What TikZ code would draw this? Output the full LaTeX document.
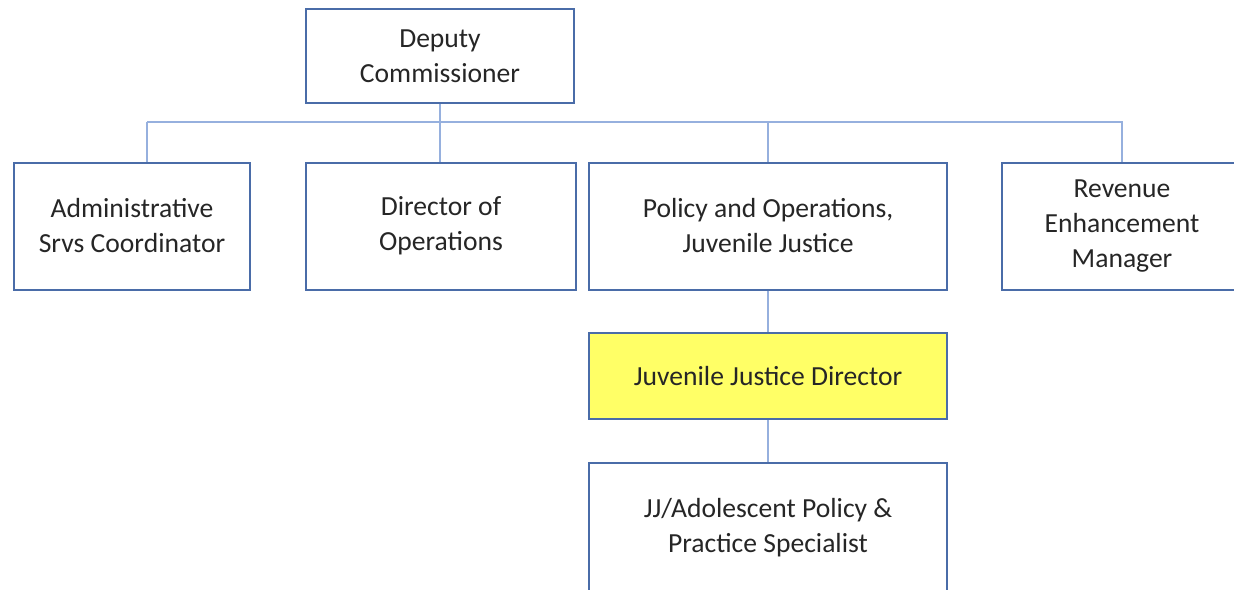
\documentclass[tikz,border=0pt]{standalone}
\usepackage{fontspec}
\setmainfont{Carlito}
\usetikzlibrary{positioning}
\definecolor{boxline}{RGB}{74,108,168}
\definecolor{linkline}{RGB}{150,176,222}
\definecolor{jjyellow}{RGB}{255,255,102}

\begin{document}
\begin{tikzpicture}[x=0.5pt,y=-0.5pt]
\tikzset{post/.style={draw=boxline, line width=1pt, fill=white, align=center,
		text=black!85, font=\fontsize{13.8}{17.5}\selectfont, inner sep=0pt},
	link/.style={draw=linkline, line width=0.8pt}}
				\useasboundingbox (0,0) rectangle (1234,589);
				\clip (0,0) rectangle (1234,589);
				% top
				\node[post, minimum width=134pt, minimum height=47pt] (deputy) at (440,56) {Deputy\\Commissioner};
				% second row
				\node[post, minimum width=118pt, minimum height=63.5pt] (admin) at (132,226) {Administrative\\Srvs Coordinator};
				\node[post, minimum width=135pt, minimum height=63.5pt] (dirops) at (441,226) {Director of\\Operations};
				\node[post, minimum width=179pt, minimum height=63.5pt] (policy) at (768,226) {Policy and Operations,\\Juvenile Justice};
				\node[post, minimum width=120pt, minimum height=63.5pt] (revenue) at (1122,226) {Revenue\\Enhancement\\Manager};
				% under policy
				\node[post, fill=jjyellow, minimum width=179pt, minimum height=43pt] (jjdir) at (768,376) {Juvenile Justice Director};
				\node[post, minimum width=179pt, minimum height=65pt] (specialist) at (768,528) {JJ/Adolescent Policy \&\\Practice Specialist};
				% links
				\coordinate (bus) at (440,122);
				\coordinate (adminjoin) at (147,122);
				\draw[link] (deputy.south) -- (bus);
				\draw[link] (adminjoin) -- (bus -| revenue.north) -- (revenue.north);
				\draw[link] (adminjoin) -- (adminjoin |- admin.north);
				\draw[link] (bus) -- (dirops.north -| bus);
				\draw[link] (bus -| policy.north) -- (policy.north);
				\draw[link] (policy.south) -- (jjdir.north);
				\draw[link] (jjdir.south) -- (specialist.north);
\end{tikzpicture}
\end{document}
